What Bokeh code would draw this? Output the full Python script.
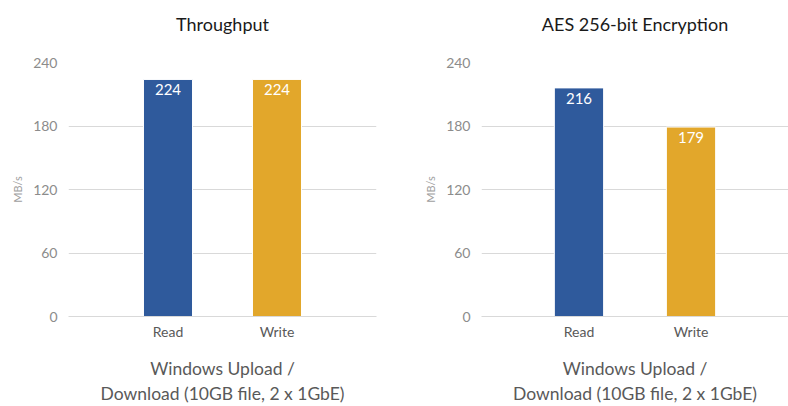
from bokeh.plotting import figure
from bokeh.layouts import row
from bokeh.models import FactorRange, Range1d, FixedTicker, ColumnDataSource, Title
from bokeh.core.properties import value
from bokeh.embed import file_html
from bokeh.resources import INLINE

categories = ["Read", "Write"]
throughput = [224, 224]
aes = [216, 179]
titles = ["Throughput", "AES 256-bit Encryption"]
bar_colors = ["#2F5A9C", "#E2A72B"]
y_ticks = [0, 60, 120, 180, 240]
y_label = "MB/s"
x_label = "Windows Upload /\nDownload (10GB file, 2 x 1GbE)"

FONT = "Lato"


def make_chart(title, vals, width, border_left, border_right, pad, bar_w):
    src = ColumnDataSource(dict(
        cat=categories,
        val=vals,
        lab=[str(v) for v in vals],
        col=bar_colors,
    ))
    p = figure(
        x_range=FactorRange(*categories, range_padding=pad, range_padding_units="absolute"),
        y_range=Range1d(0, 240),
        width=width, height=406,
        output_backend="svg", toolbar_location=None,
        min_border_left=border_left, min_border_right=border_right,
        min_border_top=62, min_border_bottom=89,
    )
    # spacer between the frame and the title (nearest to the frame)
    p.add_layout(Title(text=" ", text_font_size="1px", standoff=16), "above")
    p.add_layout(Title(text=title, align="center", text_font=FONT,
                       text_font_size="18px", text_font_style="normal",
                       text_color="#1a1a1a", standoff=18), "above")

    p.vbar(x="cat", top="val", width=bar_w, fill_color="col", line_color="white",
           line_width=1, source=src)
    p.text(x="cat", y="val", text="lab", source=src, text_align="center",
           text_baseline="top", y_offset=5, text_color="white",
           text_font=value(FONT), text_font_size="15px")

    p.outline_line_color = None
    p.background_fill_color = "white"
    p.border_fill_color = "white"

    p.xgrid.grid_line_color = None
    p.ygrid.grid_line_color = "#d9d9d9"
    p.ygrid.grid_line_width = 1
    p.yaxis.ticker = FixedTicker(ticks=y_ticks)

    p.yaxis.axis_line_color = None
    p.yaxis.major_tick_line_color = None
    p.yaxis.minor_tick_line_color = None
    p.yaxis.major_tick_out = 0
    p.yaxis.major_tick_in = 0
    p.yaxis.minor_tick_out = 0
    p.yaxis.major_label_text_font = FONT
    p.yaxis.major_label_text_font_size = "14px"
    p.yaxis.major_label_text_color = "#8c8c8c"
    p.yaxis.major_label_standoff = 11
    p.yaxis.axis_label = y_label
    p.yaxis.axis_label_text_font = FONT
    p.yaxis.axis_label_text_font_size = "11px"
    p.yaxis.axis_label_text_font_style = "normal"
    p.yaxis.axis_label_text_color = "#a0a0a0"
    p.yaxis.axis_label_standoff = 6

    p.xaxis.axis_line_color = "#d9d9d9"
    p.xaxis.major_tick_line_color = None
    p.xaxis.minor_tick_line_color = None
    p.xaxis.major_tick_out = 0
    p.xaxis.major_tick_in = 0
    p.xaxis.minor_tick_out = 0
    p.xaxis.major_label_text_font = FONT
    p.xaxis.major_label_text_font_size = "14px"
    p.xaxis.major_label_text_color = "#595959"
    p.xaxis.major_label_standoff = 6
    p.xaxis.axis_label = x_label
    p.xaxis.axis_label_text_font = FONT
    p.xaxis.axis_label_text_font_size = "17.5px"
    p.xaxis.axis_label_text_font_style = "normal"
    p.xaxis.axis_label_text_color = "#595959"
    p.xaxis.axis_label_standoff = 15
    return p


p1 = make_chart(titles[0], throughput, 394, 68, 18, 0.413, 0.45)
p2 = make_chart(titles[1], aes, 394, 87, 0, 0.37, 0.44)

layout = row(p1, p2, spacing=0)
open("out.html", "w").write(file_html(layout, INLINE))
